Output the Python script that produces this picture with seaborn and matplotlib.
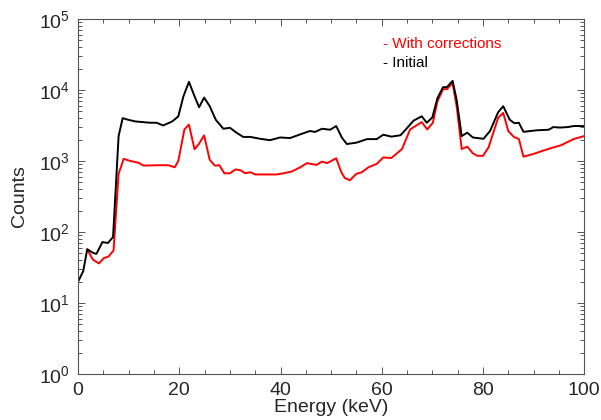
import numpy as np
import pandas as pd
import seaborn as sns
import matplotlib
matplotlib.use("Agg")
import matplotlib.pyplot as plt
from matplotlib.ticker import MultipleLocator, LogLocator

# Initial spectrum
energy_initial = [0.0, 1.0, 1.8, 2.9, 3.6, 4.8, 5.9, 6.9, 8.0, 8.8, 9.9, 11.3, 14.2, 15.5,
                  16.8, 18.6, 19.8, 20.8, 21.9, 22.9, 23.9, 24.9, 26.0, 27.2, 28.7, 30.0,
                  31.3, 32.6, 34.0, 36.0, 37.9, 39.9, 41.9, 43.9, 45.8, 46.8, 48.2, 49.8,
                  51.0, 52.1, 53.1, 55.0, 57.1, 59.0, 60.3, 61.9, 63.7, 64.6, 66.3, 67.9,
                  68.9, 70.0, 71.0, 72.1, 72.9, 74.0, 74.8, 75.8, 76.9, 78.0, 80.1, 81.4,
                  83.0, 84.0, 85.3, 86.2, 87.1, 88.0, 90.6, 93.0, 93.9, 95.2, 96.8, 97.9,
                  100.0]
counts_initial = [20, 28, 57, 51, 49, 72, 70, 85, 2240, 4000, 3800, 3600, 3450, 3450,
                  3160, 3600, 4250, 8100, 13000, 8500, 5700, 7800, 5900, 3800, 2840, 2930,
                  2500, 2180, 2180, 2050, 1960, 2140, 2100, 2370, 2640, 2560, 2840, 2750,
                  3100, 2140, 1730, 1810, 2030, 2030, 2340, 2200, 2300, 2700, 3700, 4250,
                  3450, 4100, 7650, 10900, 11000, 13400, 7250, 2240, 2500, 2140, 2050, 2640,
                  4850, 5900, 3800, 3400, 3450, 2570, 2700, 2750, 3000, 2950, 3000, 3100,
                  3100]

# Corrected spectrum
energy_corrected = [1.8, 2.9, 4.1, 5.1, 6.0, 7.0, 8.0, 9.0, 10.3, 12.0, 12.9, 15.5, 17.8,
                    19.1, 19.8, 21.0, 21.9, 23.0, 23.9, 24.9, 26.0, 27.0, 27.9, 28.9, 30.0,
                    31.1, 32.1, 33.0, 34.0, 35.0, 39.2, 40.6, 42.2, 43.9, 45.2, 47.1, 48.2,
                    49.2, 51.0, 52.0, 52.7, 53.7, 55.0, 56.0, 57.4, 59.0, 60.3, 61.9, 64.0,
                    65.6, 67.9, 69.0, 70.1, 71.0, 72.1, 72.9, 74.0, 74.8, 75.8, 76.9, 78.0,
                    78.9, 80.0, 81.1, 83.0, 84.0, 85.0, 86.1, 87.1, 88.0, 89.9, 91.8, 93.9,
                    95.4, 97.9, 100.0]
counts_corrected = [57, 41, 36, 43, 45, 55, 660, 1070, 1000, 940, 860, 870, 870,
                    815, 1000, 2780, 3250, 1460, 1750, 2290, 1040, 860, 870, 670, 670,
                    760, 740, 670, 695, 645, 645, 670, 710, 815, 930, 880, 980,
                    930, 1090, 695, 575, 535, 660, 690, 815, 910, 1120, 1100, 1470,
                    2780, 3520, 2780, 3450, 6900, 10200, 10300, 12400, 5900, 1470, 1590, 1280,
                    1180, 1180, 1550, 4050, 4750, 2640, 2180, 2030, 1150, 1250, 1390, 1550,
                    1660, 2030, 2240]

series_names = ["Initial", "With corrections"]

df = pd.concat([
    pd.DataFrame({"Energy": energy_initial, "Counts": counts_initial, "Series": series_names[0]}),
    pd.DataFrame({"Energy": energy_corrected, "Counts": counts_corrected, "Series": series_names[1]}),
])

sns.set_style("ticks")
plt.rcParams["font.family"] = ["Liberation Sans", "DejaVu Sans"]
plt.rcParams["mathtext.fontset"] = "custom"
plt.rcParams["mathtext.rm"] = "Liberation Sans"

fig, ax = plt.subplots(figsize=(6.01, 4.2), dpi=100)
fig.subplots_adjust(left=0.13, right=0.972, bottom=0.1095, top=0.955)

sns.lineplot(data=df, x="Energy", y="Counts", hue="Series", estimator=None,
             palette={"Initial": "black", "With corrections": "red"},
             hue_order=["With corrections", "Initial"],
             linewidth=1.4, legend=False, ax=ax)

ax.set_yscale("log")
ax.set_xlim(0, 100)
ax.set_ylim(1, 1e5)
ax.xaxis.set_major_locator(MultipleLocator(20))
ax.xaxis.set_minor_locator(MultipleLocator(5))
ax.yaxis.set_major_locator(LogLocator(base=10, numticks=10))
ax.yaxis.set_minor_locator(LogLocator(base=10, subs=np.arange(2, 10), numticks=20))

ax.tick_params(which="both", direction="in", top=True, right=True, width=0.7, color="#555555")
ax.tick_params(which="major", length=5, labelsize=14, pad=6)
ax.tick_params(which="minor", length=3)
for s in ax.spines.values():
    s.set_linewidth(0.8)
    s.set_color("#555555")

ax.set_xlabel("Energy (keV)", fontsize=14, labelpad=0)
ax.set_ylabel("Counts", fontsize=14, labelpad=8)

ax.text(0.603, 0.93, "- With corrections", color="red", fontsize=11,
        transform=ax.transAxes, va="center")
ax.text(0.603, 0.876, "- Initial", color="black", fontsize=11,
        transform=ax.transAxes, va="center")

fig.savefig("out.png", dpi=100)
